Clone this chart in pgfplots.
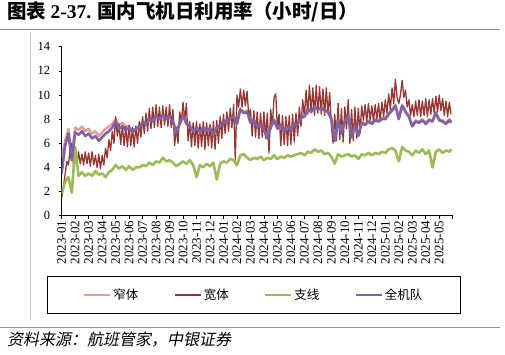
\documentclass[border=0pt]{standalone}
\usepackage{fontspec}
\setmainfont{Liberation Serif}
\newfontfamily\cjk{Noto Sans CJK SC}
\newfontfamily\cjkit{Noto Sans CJK SC}[FakeSlant=0.2]
\usepackage{pgfplots}
\usepackage{pgfplotstable}
\pgfplotsset{compat=1.18}
\definecolor{cnarrow}{HTML}{E49C9A}
\definecolor{cwide}{HTML}{953735}
\definecolor{creg}{HTML}{9BBB59}
\definecolor{cfleet}{HTML}{8064A2}
\pgfplotstableread{
m narrow regional fleet
0 4.8 1.8 3.5
0.25 6.2 2.8 5.8
0.5 7.2 3.2 6.8
0.75 5.0 1.9 4.6
1.0 7.3 5.7 6.9
1.25 7.1 3.3 6.7
1.5 7.4 3.6 7.0
1.75 7.0 3.3 6.6
2.0 7.2 3.5 6.8
2.25 6.8 3.3 6.4
2.5 7.0 3.7 6.6
2.75 6.6 3.4 6.2
3.0 6.9 3.5 6.5
3.25 7.2 3.2 6.8
3.5 7.4 3.6 7.0
3.75 7.6 3.8 7.3
4.0 8.0 4.2 7.8
4.25 7.5 3.9 7.2
4.5 7.7 4.1 7.4
4.75 7.4 3.8 7.1
5.0 7.4 4.1 7.3
5.25 7.0 3.8 6.9
5.5 7.3 4.0 7.2
5.75 7.4 4.0 7.3
6.0 7.8 4.2 7.7
6.25 7.7 4.1 7.6
6.5 8.1 4.4 8.0
6.75 7.9 4.2 7.8
7.0 8.4 4.5 8.3
7.25 8.1 4.4 8.0
7.5 8.4 4.8 8.3
7.75 8.1 4.5 8.0
8.0 8.3 4.6 8.2
8.25 7.9 4.4 7.8
8.5 7.0 4.1 6.9
8.75 7.7 4.3 7.6
9.0 8.4 4.5 8.3
9.25 7.7 4.3 7.6
9.5 7.5 4.6 7.4
9.75 7.1 4.2 7.0
10.0 7.4 3.2 7.3
10.25 7.0 4.2 6.9
10.5 7.4 4.0 7.3
10.75 7.1 4.3 7.0
11.0 7.3 4.1 7.2
11.25 6.9 4.4 6.8
11.5 7.4 3.0 7.3
11.75 7.5 4.3 7.4
12.0 7.9 4.5 7.8
12.25 7.8 4.4 7.7
12.5 8.2 4.7 8.1
12.75 8.3 4.6 8.2
13.0 7.7 4.2 7.6
13.25 8.9 5.0 8.8
13.5 8.6 5.1 8.5
13.75 8.7 4.8 8.6
14.0 7.8 4.6 7.7
14.25 8.0 4.8 7.9
14.5 7.4 4.7 7.3
14.75 7.7 4.9 7.6
15.0 7.2 4.6 7.1
15.25 6.5 4.8 6.4
15.5 7.4 4.7 7.3
15.75 8.0 5.0 7.9
16.0 7.3 4.7 7.2
16.25 7.6 4.9 7.5
16.5 7.1 4.8 7.0
16.75 7.5 5.0 7.4
17.0 7.2 4.9 7.1
17.25 7.7 5.0 7.6
17.5 7.7 5.1 7.6
17.75 8.2 5.2 8.1
18.0 8.3 5.0 8.2
18.25 8.9 5.3 8.8
18.5 8.7 5.2 8.6
18.75 9.1 5.5 9.0
19.0 8.9 5.3 8.8
19.25 9.0 5.4 8.9
19.5 8.8 5.1 8.7
19.75 8.7 5.2 8.6
20.0 8.1 4.9 8.0
20.25 6.3 4.3 6.2
20.5 8.0 5.1 7.9
20.75 6.9 4.9 6.8
21.0 7.9 5.0 7.8
21.25 8.4 5.1 8.3
21.5 6.6 4.9 6.5
21.75 7.6 5.0 7.5
22.0 6.7 4.7 6.6
22.25 7.8 5.1 7.7
22.5 7.6 5.0 7.5
22.75 7.9 5.2 7.8
23.0 7.7 5.0 7.6
23.25 8.0 5.2 7.9
23.5 7.9 5.1 7.8
23.75 8.1 5.3 8.0
24.0 8.1 5.2 8.0
24.25 8.5 5.5 8.4
24.5 8.8 5.6 8.7
24.75 9.2 5.4 9.1
25.0 8.1 4.5 8.0
25.25 9.2 5.7 9.1
25.5 8.7 5.4 8.6
25.75 8.3 5.3 8.2
26.0 7.5 5.0 7.4
26.25 7.9 5.4 7.8
26.5 7.8 5.2 7.7
26.75 8.0 5.5 7.9
27.0 7.7 5.1 7.6
27.25 8.0 5.4 7.9
27.5 7.9 4.0 7.8
27.75 8.6 5.3 8.5
28.0 8.0 5.5 7.9
28.25 7.9 5.2 7.8
28.5 7.7 5.4 7.6
28.75 8.0 5.3 7.9
28.9 7.8 5.5 7.7
}\data
\pgfplotstableread{
m wide
0 1.5
0.125 2.4
0.25 3.4
0.375 4.5
0.5 4.2
0.625 5.5
0.75 6.0
0.875 4.1
1.0 5.2
1.125 4.2
1.25 5.3
1.375 4.3
1.5 5.1
1.625 4.2
1.75 5.3
1.875 4.3
2.0 5.2
2.125 4.1
2.25 5.3
2.375 4.2
2.5 5.0
2.625 4.0
2.75 5.1
2.875 3.9
3.0 5.0
3.125 4.2
3.25 5.6
3.375 4.8
3.5 6.3
3.625 5.4
3.75 7.0
3.875 6.0
4.0 8.2
4.125 6.6
4.25 7.6
4.375 5.9
4.5 7.5
4.625 5.8
4.75 7.4
4.875 5.7
5.0 7.5
5.125 5.8
5.25 7.3
5.375 5.7
5.5 7.4
5.625 6.0
5.75 7.8
5.875 6.5
6.0 8.2
6.125 6.8
6.25 8.5
6.375 7.0
6.5 8.9
6.625 7.2
6.75 9.0
6.875 7.3
7.0 9.2
7.125 7.4
7.25 9.0
7.375 7.3
7.5 9.1
7.625 7.5
7.75 9.0
7.875 7.4
8.0 9.2
8.125 7.3
8.25 8.8
8.375 5.8
8.5 7.3
8.625 6.0
8.75 8.6
8.875 7.8
9.0 9.4
9.125 7.9
9.25 9.3
9.375 6.2
9.5 7.8
9.625 5.7
9.75 7.7
9.875 5.8
10.0 7.8
10.125 5.6
10.25 7.6
10.375 5.7
10.5 7.8
10.625 5.5
10.75 7.7
10.875 5.8
11.0 7.6
11.125 5.6
11.25 7.8
11.375 5.5
11.5 7.9
11.625 6.0
11.75 8.2
11.875 6.4
12.0 8.4
12.125 6.8
12.25 8.6
12.375 7.0
12.5 8.9
12.625 7.3
12.75 9.2
12.875 4.6
13.0 10.0
13.125 9.0
13.25 10.5
13.375 9.0
13.5 10.4
13.625 9.1
13.75 10.3
13.875 8.2
14.0 8.8
14.125 6.6
14.25 8.7
14.375 6.5
14.5 8.6
14.625 6.4
14.75 8.5
14.875 6.5
15.0 8.6
15.125 6.4
15.25 8.5
15.375 5.2
15.5 8.8
15.625 7.5
15.75 9.8
15.875 10.1
16.0 7.2
16.125 8.4
16.25 5.8
16.375 8.3
16.5 5.9
16.625 8.2
16.75 5.8
16.875 8.3
17.0 5.9
17.125 8.4
17.25 6.1
17.375 8.5
17.5 6.6
17.625 9.0
17.75 7.4
17.875 9.6
18.0 8.2
18.125 10.4
18.25 8.4
18.375 10.8
18.5 8.5
18.625 10.6
18.75 8.3
18.875 10.8
19.0 8.5
19.125 10.7
19.25 8.4
19.375 10.5
19.5 8.3
19.625 10.6
19.75 8.4
19.875 10.2
20.0 7.5
20.125 6.0
20.25 8.4
20.375 6.2
20.5 9.3
20.625 6.3
20.75 8.9
20.875 6.1
21.0 9.0
21.125 7.2
21.25 9.6
21.375 6.0
21.5 8.8
21.625 6.2
21.75 9.0
21.875 6.4
22.0 8.9
22.125 6.8
22.25 9.1
22.375 7.9
22.5 9.2
22.625 7.8
22.75 9.3
22.875 7.9
23.0 9.1
23.125 7.8
23.25 9.2
23.375 8.0
23.5 9.3
23.625 7.9
23.75 9.4
23.875 8.2
24.0 9.6
24.125 8.5
24.25 10.1
24.375 8.8
24.5 10.6
24.625 9.3
24.75 11.3
24.875 9.8
25.0 9.3
25.125 10.0
25.25 11.2
25.375 9.8
25.5 10.4
25.625 9.0
25.75 9.6
25.875 8.3
26.0 9.2
26.125 8.2
26.25 9.5
26.375 8.3
26.5 9.6
26.625 8.2
26.75 9.5
26.875 8.3
27.0 9.7
27.125 8.2
27.25 9.6
27.375 8.4
27.5 9.7
27.625 8.5
27.75 9.9
27.875 8.6
28.0 10.0
28.125 8.7
28.25 9.7
28.375 8.3
28.5 9.5
28.625 8.2
28.75 9.4
28.875 8.4
}\wide
\begin{document}
\begin{tikzpicture}
\useasboundingbox (-61.7pt,-138.3pt) rectangle (443.3pt,215.7pt);
% frame decorations
\draw[gray!85, line width=1pt] (-61.7pt,186.4pt) -- (438.3pt,186.4pt);
\draw[gray!45, line width=0.8pt] (-31.2pt,182.7pt) -- (-31.2pt,-104.3pt);
\draw[gray!85, line width=1pt] (-61.7pt,-111.3pt) -- (438.3pt,-111.3pt);
\node[anchor=base west, inner sep=0pt, font=\fontsize{19.5}{19.5}\selectfont] at (-54.7pt,197.2pt) {\cjk\bfseries 图表 {\rmfamily\bfseries 2-37.} 国内飞机日利用率（小时/日）};
\node[anchor=base west, inner sep=0pt, font=\fontsize{16}{16}\selectfont] at (-54.7pt,-129.3pt) {\cjkit 资料来源：航班管家，中银证券};
\begin{axis}[
  at={(0pt,0pt)}, anchor=south west,
  scale only axis, width=391pt, height=169pt,
  xmin=0, xmax=29, ymin=0, ymax=14,
  axis x line*=bottom, axis y line*=left,
  axis line style={black, line width=0.8pt},
  xtick={0,...,29},
  xticklabels={2023-01,2023-02,2023-03,2023-04,2023-05,2023-06,2023-07,2023-08,2023-09,2023-10,2023-11,2023-12,2024-01,2024-02,2024-03,2024-04,2024-05,2024-06,2024-07,2024-08,2024-09,2024-10,2024-11,2024-12,2025-01,2025-02,2025-03,2025-04,2025-05,{}},
  ytick={0,2,...,14},
  tick align=outside, major tick length=3pt,
  tick style={black, line width=0.6pt},
  x tick label style={rotate=90, anchor=east, font=\fontsize{13}{13}\selectfont, inner sep=2pt},
  y tick label style={font=\fontsize{12.5}{12.5}\selectfont, xshift=-5pt},
  /pgf/number format/assume math mode=true,
  legend columns=4,
  legend image code/.code={\draw[#1, line width=2.5pt] (0pt,0pt) -- (26pt,0pt);},
  legend style={at={(0.491,-0.469)}, anchor=center, draw=black, line width=0.8pt,
    font=\cjk\fontsize{12.5}{13}\selectfont, inner xsep=36pt, inner ysep=10pt,
    /tikz/every even column/.append style={column sep=33pt}},
]
\addplot[cnarrow, line width=2.4pt, line join=round] table[x=m, y=narrow] {\data};
\addlegendentry{窄体}
\addplot[cwide, line width=1.3pt, line join=round] table[x=m, y=wide] {\wide};
\addlegendentry{宽体}
\addplot[creg, line width=2.6pt, line join=round] table[x=m, y=regional] {\data};
\addlegendentry{支线}
\addplot[cfleet, line width=2.6pt, line join=round] table[x=m, y=fleet] {\data};
\addlegendentry{全机队}
\end{axis}
\end{tikzpicture}
\end{document}
